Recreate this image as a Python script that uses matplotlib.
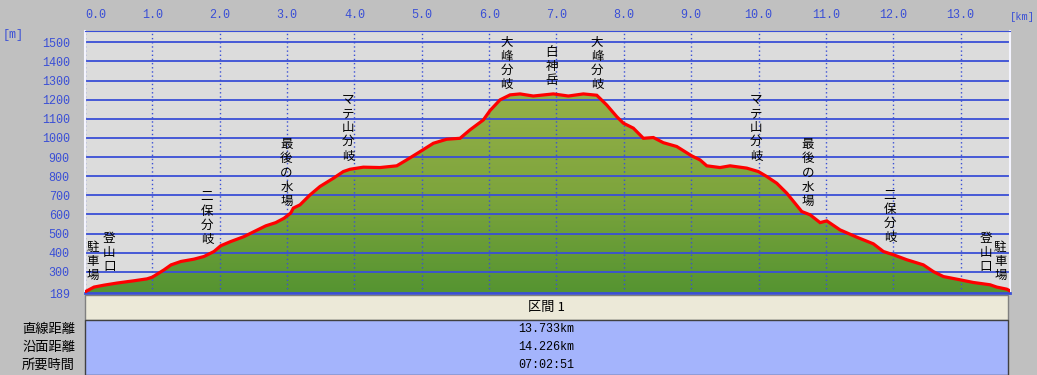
import numpy as np
import matplotlib
matplotlib.use("Agg")
import matplotlib.pyplot as plt
from matplotlib.colors import LinearSegmentedColormap
from matplotlib.patches import Rectangle

plt.rcParams['font.family'] = ['Noto Sans CJK JP', 'DejaVu Sans']

# profile (distance km, elevation m)
dist = [0.0, 0.134, 0.282, 0.475, 0.728, 0.921, 1.0, 1.173, 1.277, 1.425, 1.618,
        1.767, 1.915, 2.015, 2.163, 2.361, 2.509, 2.683, 2.832, 2.955, 3.054,
        3.093, 3.192, 3.341, 3.489, 3.687, 3.835, 3.935, 4.132, 4.380, 4.628,
        4.776, 4.974, 5.172, 5.370, 5.568, 5.716, 5.914, 6.013, 6.162, 6.311,
        6.459, 6.656, 6.953, 7.176, 7.399, 7.598, 7.746, 7.895, 7.993, 8.141,
        8.290, 8.438, 8.586, 8.785, 9.008, 9.131, 9.231, 9.428, 9.577, 9.825,
        9.997, 10.122, 10.270, 10.419, 10.641, 10.765, 10.913, 11.013, 11.210,
        11.458, 11.705, 11.853, 12.001, 12.200, 12.447, 12.595, 12.744, 12.992,
        13.189, 13.437, 13.536, 13.685, 13.733]
elev = [195, 220, 230, 241, 253, 263, 272, 310, 336, 354, 366,
        380, 406, 436, 458, 484, 510, 540, 557, 580, 607,
        633, 650, 702, 746, 789, 824, 836, 847, 845, 854,
        885, 928, 972, 993, 998, 1042, 1094, 1143, 1199, 1225,
        1230, 1219, 1230, 1219, 1230, 1223, 1172, 1111, 1077, 1051,
        998, 1002, 975, 955, 906, 885, 854, 845, 854, 842,
        824, 798, 763, 711, 615, 598, 557, 566, 519,
        481, 446, 406, 389, 363, 336, 301, 275, 258,
        244, 232, 220, 209, 200]

# place names (km, top of text in m)
place_names = ['駐車場', '登山口', '二保分岐', '最後の水場', 'マテ山分岐', '大峰分岐', '白神岳',
               '大峰分岐', 'マテ山分岐', '最後の水場', '二保分岐', '登山口', '駐車場']
place_km = [0.12, 0.36, 1.81, 2.99, 3.91, 6.26, 6.93, 7.60, 9.96, 10.73, 11.95, 13.37, 13.59]
place_top = [462, 508, 725, 998, 1236, 1536, 1483, 1536, 1236, 998, 735, 508, 462]

y_ticks = [189, 300, 400, 500, 600, 700, 800, 900, 1000, 1100, 1200, 1300, 1400, 1500]
x_ticks = list(range(0, 14))

section_title = '区間 1'
row_labels = ['直線距離', '沿面距離', '所要時間']
row_values = ['13.733km', '14.226km', '07:02:51']

W, H = 1037, 375
blue = '#3a4fd6'
fig = plt.figure(figsize=(W / 100, H / 100), dpi=100, facecolor='#c0c0c0')

def fx(px):
    return px / W

def fy(py):
    return 1 - py / H

ax = fig.add_axes([fx(85), fy(293), fx(1010) - fx(85), fy(31) - fy(293)])
ax.set_facecolor('#dcdcdc')

# gradient fill under the profile
cmap = LinearSegmentedColormap.from_list('g', ['#559431', '#7ea53d', '#96b049'])
grad = np.linspace(0, 1, 256).reshape(-1, 1)
poly = ax.fill_between(dist, elev, 189, facecolor='none', edgecolor='none')
im = ax.imshow(grad, extent=[0, 13.733, 189, 1250], origin='lower', aspect='auto',
               cmap=cmap, zorder=1)
im.set_clip_path(poly.get_paths()[0], transform=ax.transData)
ax.set_xlim(0, 13.733)
ax.set_ylim(189, 1559)

# grid
for v in y_ticks[1:]:
    ax.axhline(v, color=blue, lw=1.3, zorder=2)
for v in x_ticks:
    ax.axvline(v, color=blue, lw=1, ls=(0, (1, 2)), zorder=2)

ax.plot(dist, elev, color='#ff0000', lw=2.3, zorder=4, solid_joinstyle='miter')

# ticks
ax.xaxis.tick_top()
ax.set_xticks(x_ticks)
ax.set_xticklabels(['%.1f' % v for v in x_ticks], family='Liberation Mono', fontsize=8.5, color=blue)
ax.get_xticklabels()[0].set_horizontalalignment('left')
ax.set_yticks(y_ticks)
ax.set_yticklabels([str(v) for v in y_ticks], family='Liberation Mono', fontsize=8.5, color=blue)
ax.tick_params(axis='both', length=0)
ax.tick_params(axis='x', pad=7)
ax.tick_params(axis='y', pad=11)

for s in ['left', 'right']:
    ax.spines[s].set_color('#f4f4ff')
    ax.spines[s].set_linewidth(1.5)
ax.spines['top'].set_color(blue)
ax.spines['bottom'].set_color(blue)
ax.spines['bottom'].set_linewidth(2)

fig.text(fx(3), fy(35), '[m]', family='Liberation Mono', fontsize=8.5, color=blue, va='center')
fig.text(fx(1035), fy(17), '[km]', family='Liberation Mono', fontsize=7.5, color=blue,
         ha='right', va='center')

# place labels, stacked vertically
for name, km, top in zip(place_names, place_km, place_top):
    ax.text(km, top, '\n'.join(name), fontsize=9, ha='center', va='top',
            linespacing=1.12, color='black', zorder=5)

# table below
fig.patches.append(Rectangle((fx(85), fy(320)), fx(1008) - fx(85), fy(295) - fy(320),
                             transform=fig.transFigure, facecolor='#ece9d8',
                             edgecolor='#808080', lw=1))
fig.patches.append(Rectangle((fx(85), 0), fx(1008) - fx(85), fy(320),
                             transform=fig.transFigure, facecolor='#a4b4fc',
                             edgecolor='#404040', lw=1))
fig.text(fx(546), fy(307), section_title, fontsize=9.5, ha='center', va='center')
row_y = [329, 347, 365]
for lab, val, y in zip(row_labels, row_values, row_y):
    fig.text(fx(75), fy(y), lab, fontsize=9.5, ha='right', va='center')
    fig.text(fx(546), fy(y), val, family='Liberation Mono', fontsize=8.5, ha='center', va='center')

fig.savefig('out.png', dpi=100, facecolor=fig.get_facecolor())
